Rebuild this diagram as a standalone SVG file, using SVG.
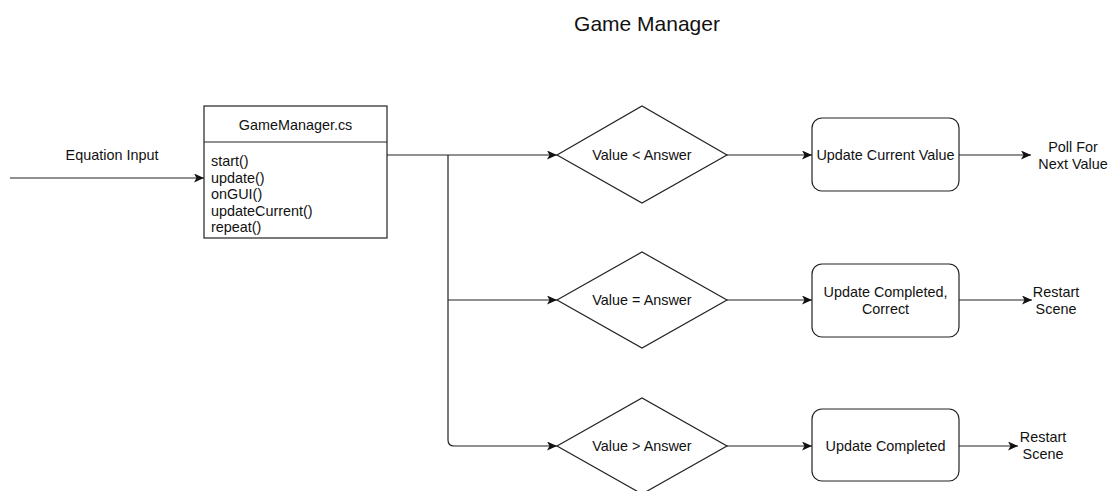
<svg xmlns="http://www.w3.org/2000/svg" width="1111" height="491" viewBox="0 0 1111 491">
<style>
text{font-family:"Liberation Sans",Arial,sans-serif;font-size:14.4px;fill:#111}
.c{text-anchor:middle;dominant-baseline:central}
.shape{fill:#fff;stroke:#222;stroke-width:1.2}
.edge{fill:none;stroke:#222;stroke-width:1.2}
</style>
<defs>
<marker id="arr" markerUnits="userSpaceOnUse" markerWidth="12" markerHeight="10" refX="10" refY="4.5" orient="auto">
<path d="M0,0 L10,4.5 L0,9 L2.5,4.5 Z" fill="#111"/>
</marker>
</defs>
<rect width="1111" height="491" fill="#fff"/>
<text class="c" x="647" y="23" style="font-size:21px">Game Manager</text>
<g id="connectors">
<path class="edge" d="M10,178 L204,178" marker-end="url(#arr)"/>
<path class="edge" d="M387,155 L557,155" marker-end="url(#arr)"/>
<path class="edge" d="M448,300 L557,300" marker-end="url(#arr)"/>
<path class="edge" d="M448,155 L448,440 Q448,446 454,446 L557,446" marker-end="url(#arr)"/>
<path class="edge" d="M727,155 L812,155" marker-end="url(#arr)"/>
<path class="edge" d="M727,300 L812,300" marker-end="url(#arr)"/>
<path class="edge" d="M727,446 L812,446" marker-end="url(#arr)"/>
<path class="edge" d="M959,155 L1031,155" marker-end="url(#arr)"/>
<path class="edge" d="M959,300 L1032,300" marker-end="url(#arr)"/>
<path class="edge" d="M959,446 L1018,446" marker-end="url(#arr)"/>
</g>
<g id="equation-input">
<text class="c" x="112" y="155">Equation Input</text>
</g>
<g id="gamemanager">
<rect class="shape" x="204" y="106" width="183" height="132"/>
<line class="edge" x1="204" y1="142" x2="387" y2="142"/>
<text class="c" x="295.5" y="125">GameManager.cs</text>
<text x="211" y="166">start()</text>
<text x="211" y="182.5">update()</text>
<text x="211" y="199">onGUI()</text>
<text x="211" y="215.5">updateCurrent()</text>
<text x="211" y="232">repeat()</text>
</g>
<g id="d-less">
<polygon class="shape" points="557,155 642,106 727,155 642,203"/>
<text class="c" x="642" y="155">Value &lt; Answer</text>
</g>
<g id="d-equal">
<polygon class="shape" points="557,300 642,252 727,300 642,348"/>
<text class="c" x="642" y="300">Value = Answer</text>
</g>
<g id="d-greater">
<polygon class="shape" points="557,446 642,398 727,446 642,494"/>
<text class="c" x="642" y="446">Value &gt; Answer</text>
</g>
<g id="b-current">
<rect class="shape" x="812" y="118" width="147" height="73" rx="10"/>
<text class="c" x="885.5" y="155">Update Current Value</text>
</g>
<g id="b-correct">
<rect class="shape" x="812" y="264" width="147" height="73" rx="10"/>
<text class="c" x="885.5" y="292">Update Completed,</text>
<text class="c" x="885.5" y="309">Correct</text>
</g>
<g id="b-completed">
<rect class="shape" x="812" y="409" width="147" height="72" rx="10"/>
<text class="c" x="885.5" y="446">Update Completed</text>
</g>
<g id="poll">
<text class="c" x="1073" y="147">Poll For</text>
<text class="c" x="1073" y="164">Next Value</text>
</g>
<g id="restart1">
<text class="c" x="1056" y="292">Restart</text>
<text class="c" x="1056" y="309">Scene</text>
</g>
<g id="restart2">
<text class="c" x="1043" y="437">Restart</text>
<text class="c" x="1043" y="454">Scene</text>
</g>
</svg>
